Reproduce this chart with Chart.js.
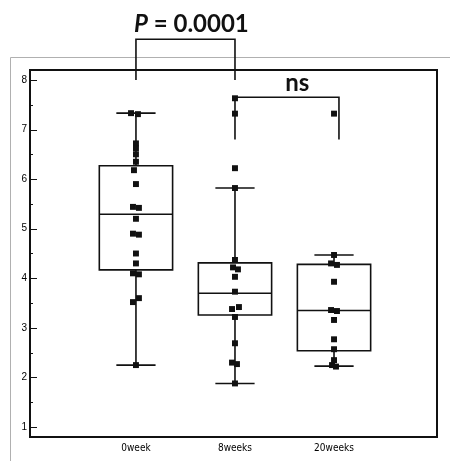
<!DOCTYPE html>
<html>
<head>
<meta charset="utf-8">
<script src="https://cdn.jsdelivr.net/npm/chart.js@4"></script>
<style>
body { margin: 0; background: #fff; }
</style>
</head>
<body>
<canvas id="boxChart" width="450" height="461"></canvas>
<script>
// groups along the x axis
const groups = ['0week', '8weeks', '20weeks'];
const groupPos = [1, 2, 3];

// individual values per group
const week0 = [7.33, 7.31, 6.72, 6.62, 6.50, 6.35, 6.18, 5.90, 5.44, 5.42, 5.20, 4.90, 4.88, 4.50, 4.30, 4.10, 4.08, 3.60, 3.52, 2.25];
const week8 = [7.63, 7.32, 6.22, 5.82, 4.37, 4.22, 4.18, 4.03, 3.73, 3.42, 3.38, 3.22, 2.69, 2.30, 2.27, 1.88];
const week20 = [7.32, 4.47, 4.30, 4.27, 3.93, 3.36, 3.34, 3.16, 2.77, 2.57, 2.35, 2.25, 2.22];

// small sideways spread so overlapping dots stay visible
const jitter0 = [-0.05, 0.02, 0, 0, 0, 0, -0.02, 0, -0.03, 0.03, 0, -0.03, 0.03, 0, 0, -0.03, 0.03, 0.03, -0.03, 0];
const jitter8 = [0, 0, 0, 0, 0, -0.02, 0.03, 0, 0, 0.04, -0.03, 0, 0, -0.03, 0.02, 0];
const jitter20 = [0, 0, -0.03, 0.03, 0, -0.03, 0.03, 0, 0, 0, 0, -0.02, 0.02];

// box statistics: min, q1, median, q3, max
const stats0 = [2.25, 4.17, 5.29, 6.27, 7.33];
const stats8 = [1.88, 3.26, 3.70, 4.31, 5.82];
const stats20 = [2.23, 2.54, 3.35, 4.28, 4.47];

const yTicks = [1, 2, 3, 4, 5, 6, 7, 8];

// significance brackets: from, to, top, leg end
const bracketP = [1, 2, 8.82, 8.0];
const bracketNs = [2, 3.05, 7.65, 6.8];
const labelP = ['P', ' = 0.0001'];
const labelNs = 'ns';

const values = [week0, week8, week20];
const jitters = [jitter0, jitter8, jitter20];
const stats = [stats0, stats8, stats20];

function dotData() {
const pts = [];
values.forEach((arr, g) => {
arr.forEach((v, i) => pts.push({x: groupPos[g] + jitters[g][i], y: v}));
});
return pts;
}

// outline of one box with median and whiskers, split by null gaps
function boxSegments(pos, s) {
const w = 0.37, c = 0.19;
const seg = [];
const add = list => {
list.forEach(p => seg.push({x: p[0], y: p[1]}));
seg.push({x: pos, y: null});
};
add([[pos - w, s[1]], [pos + w, s[1]], [pos + w, s[3]], [pos - w, s[3]], [pos - w, s[1]]]);
add([[pos - w, s[2]], [pos + w, s[2]]]);
add([[pos, s[3]], [pos, s[4]]]);
add([[pos - c, s[4]], [pos + c, s[4]]]);
add([[pos, s[0]], [pos, s[1]]]);
add([[pos - c, s[0]], [pos + c, s[0]]]);
return seg;
}

function bracketSegments(b) {
return [
{x: b[0], y: b[3]}, {x: b[0], y: b[2]}, {x: b[1], y: b[2]}, {x: b[1], y: b[3]}
];
}

let boxLines = [];
groupPos.forEach((p, g) => { boxLines = boxLines.concat(boxSegments(p, stats[g])); });

const frameAndText = {
id: 'frameAndText',
beforeDraw(chart) {
const ctx = chart.ctx;
ctx.save();
ctx.fillStyle = '#fff';
ctx.fillRect(0, 0, chart.width, chart.height);
// faint panel edge
ctx.strokeStyle = '#b0b0b0';
ctx.lineWidth = 1;
ctx.beginPath();
ctx.moveTo(10.5, chart.height);
ctx.lineTo(10.5, 57.5);
ctx.lineTo(chart.width, 57.5);
ctx.stroke();
ctx.restore();
},
afterDraw(chart) {
const {ctx, chartArea: a, scales: {x, y}} = chart;
ctx.save();
ctx.strokeStyle = '#111';
ctx.lineWidth = 2;
ctx.strokeRect(a.left, a.top, a.right - a.left, a.bottom - a.top);

// inward ticks on the y axis, half steps shorter
ctx.lineWidth = 1.2;
ctx.beginPath();
for (let v = 1; v <= 8; v += 0.5) {
const py = Math.round(y.getPixelForValue(v)) + 0.5;
const len = Number.isInteger(v) ? 7 : 3;
ctx.moveTo(a.left, py);
ctx.lineTo(a.left + len, py);
}
ctx.stroke();

ctx.fillStyle = '#111';
ctx.textBaseline = 'alphabetic';
// P value label
let px = x.getPixelForValue(bracketP[0]) - 2;
const py = y.getPixelForValue(bracketP[2]) - 7;
ctx.font = 'italic bold 24px Lato, "Open Sans", sans-serif';
ctx.textAlign = 'left';
ctx.fillText(labelP[0], px, py);
px += ctx.measureText(labelP[0]).width;
ctx.font = 'bold 24px Lato, "Open Sans", sans-serif';
ctx.fillText(labelP[1], px, py);

// ns label
ctx.textAlign = 'center';
ctx.fillText(labelNs, x.getPixelForValue(2.63), y.getPixelForValue(bracketNs[2]) - 6);
ctx.restore();
}
};

const config = {
type: 'scatter',
data: {
datasets: [{
label: 'values',
data: dotData(),
pointStyle: 'rect',
pointRadius: 4.2,
backgroundColor: '#111',
borderWidth: 0,
order: 0
}, {
type: 'line',
label: 'boxes',
data: boxLines,
showLine: true,
spanGaps: false,
pointRadius: 0,
borderColor: '#111',
borderWidth: 1.6,
borderCapStyle: 'square',
order: 1
}, {
type: 'line',
label: 'brackets',
data: bracketSegments(bracketP).concat([{x: 2, y: null}], bracketSegments(bracketNs)),
showLine: true,
spanGaps: false,
pointRadius: 0,
borderColor: '#111',
borderWidth: 1.6,
clip: false,
order: 2
}]
},
options: {
responsive: false,
animation: false,
events: [],
layout: {
padding: {top: 70, right: 13, left: 0, bottom: 0}
},
scales: {
x: {
type: 'linear',
min: -0.07,
max: 4.04,
grid: {display: false, drawTicks: false},
border: {display: false},
afterFit: scale => { scale.height = 24; },
afterBuildTicks: scale => { scale.ticks = groupPos.map(v => ({value: v})); },
ticks: {
padding: 5,
maxRotation: 0,
color: '#000',
font: {family: '"Liberation Sans Narrow", "DejaVu Sans Condensed", sans-serif', size: 10},
callback: value => groups[groupPos.indexOf(value)]
}
},
y: {
type: 'linear',
min: 0.8,
max: 8.2,
grid: {display: false, drawTicks: false},
border: {display: false},
afterFit: scale => { scale.width = 30; },
afterBuildTicks: scale => { scale.ticks = yTicks.map(v => ({value: v})); },
ticks: {
padding: 3,
color: '#000',
font: {family: '"Liberation Sans", Arial, sans-serif', size: 10}
}
}
},
plugins: {
legend: {display: false},
tooltip: {enabled: false}
}
},
plugins: [frameAndText]
};

new Chart(document.getElementById('boxChart'), config);
</script>
</body>
</html>
